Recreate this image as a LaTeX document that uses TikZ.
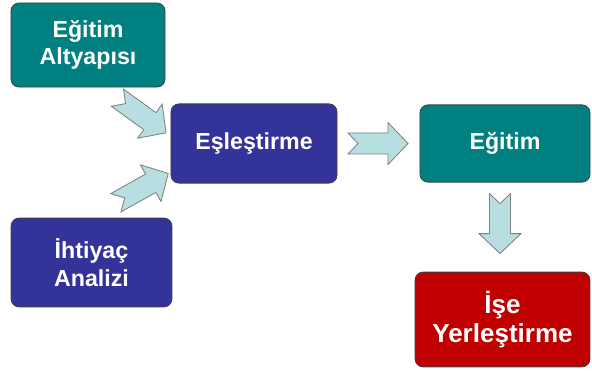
\documentclass[tikz,border=0pt]{standalone}
\usepackage{fontspec}
\setmainfont{Liberation Sans}
\usetikzlibrary{calc}
\definecolor{tealbox}{RGB}{0,128,128}
\definecolor{navybox}{RGB}{51,51,153}
\definecolor{redbox}{RGB}{192,0,0}
\definecolor{arrowfill}{RGB}{183,222,224}
\begin{document}
\begin{tikzpicture}[x=0.025cm,y=-0.025cm,
		box/.style={draw=black!75,line width=0.6pt,rounded corners=0.2cm,text=white,align=center,font=\bfseries\fontsize{16.5}{19.5}\selectfont,inner sep=0pt},
		barrow/.pic={\draw[fill=arrowfill,draw=black!50,line width=0.6pt,line join=miter] (-30,10.5) -- (10,10.5) -- (10,21) -- (30,0) -- (10,-21) -- (10,-10.5) -- (-30,-10.5) -- (-20,0) -- cycle;}]
		\useasboundingbox (0,0) rectangle (592,372);
		\node[box,fill=tealbox,minimum width=3.85cm,minimum height=2.1cm] (altyapi) at (88,45) {Eğitim\\Altyapısı};
		\node[box,fill=navybox,minimum width=4.15cm,minimum height=1.98cm] (esles) at (254,143.5) {Eşleştirme};
		\node[box,fill=tealbox,minimum width=4.25cm,minimum height=1.93cm] (egitim) at (505,143.5) {Eğitim};
		\node[box,fill=navybox,minimum width=4.02cm,minimum height=2.22cm] (ihtiyac) at (91.5,262.5) {İhtiyaç\\Analizi};
		\node[box,fill=redbox,minimum width=4.37cm,minimum height=2.37cm,font=\bfseries\fontsize{18.5}{20}\selectfont] (ise) at (502.5,319.5) {İşe\\Yerleştirme};
		\coordinate (a1) at ($(altyapi.south east)+(-47.5,10.7)$);
		\coordinate (a2) at ($(esles.north west)+(-5,29)$);
		\coordinate (b1) at ($(ihtiyac.north east)+(-54.5,-16)$);
		\coordinate (b2) at ($(esles.south west)+(-4.3,-9)$);
		\coordinate (c1) at ($(esles.east)+(11,0)$);
		\coordinate (c2) at ($(egitim.west)+(-12,0)$);
		\coordinate (d1) at ($(egitim.south)+(-5,12)$);
		\coordinate (d2) at ($(ise.north)+(-2.5,-19)$);
		\foreach \s/\t in {a1/a2,b1/b2,c1/c2,d1/d2}
			\path let \p1=($(\t)-(\s)$), \n1={atan2(\y1,\x1)} in ($(\s)!0.5!(\t)$) pic[rotate=\n1] {barrow};
	\end{tikzpicture}
\end{document}
